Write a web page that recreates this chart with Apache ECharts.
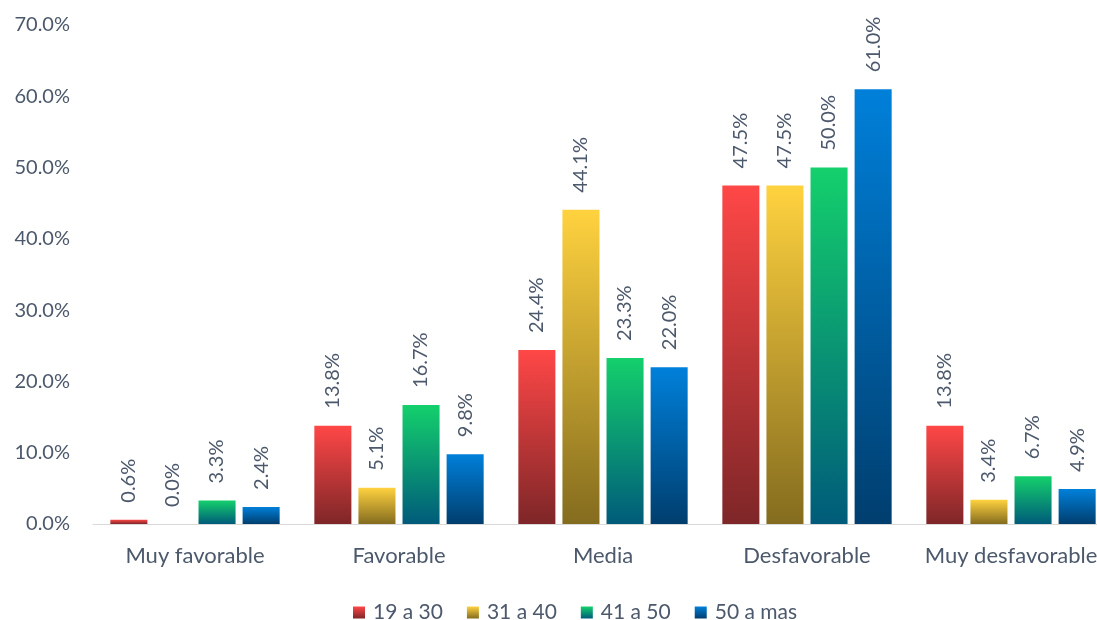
<!DOCTYPE html>
<html>
<head>
<meta charset="utf-8">
<script src="https://cdn.jsdelivr.net/npm/echarts@6/dist/echarts.min.js"></script>
<style>
  html, body { margin: 0; padding: 0; background: #ffffff; }
  #chart { width: 1097px; height: 620px; }
</style>
</head>
<body>
<div id="chart"></div>
<script>
// Categories and age groups
const categories = ['Muy favorable', 'Favorable', 'Media', 'Desfavorable', 'Muy desfavorable'];
const groupNames = ['19 a 30', '31 a 40', '41 a 50', '50 a mas'];

// Percentages per age group
const g19a30 = [0.6, 13.8, 24.4, 47.5, 13.8];
const g31a40 = [0.0, 5.1, 44.1, 47.5, 3.4];
const g41a50 = [3.3, 16.7, 23.3, 50.0, 6.7];
const g50mas = [2.4, 9.8, 22.0, 61.0, 4.9];

// Y axis ticks
const yTicks = [0, 10, 20, 30, 40, 50, 60, 70];

const seriesValues = [g19a30, g31a40, g41a50, g50mas];

// Top (bright) and bottom (dark) colour of each bar gradient
const gradientStops = [
  ['#ff4747', '#7e2628'],
  ['#ffd23f', '#846c1f'],
  ['#14d06c', '#005b7a'],
  ['#0080da', '#003e6e']
];

const textColor = '#4c586b';
const fontFamily = 'Lato, "Open Sans", sans-serif';

function grad(i) {
  return new echarts.graphic.LinearGradient(0, 0, 0, 1, [
    { offset: 0, color: gradientStops[i][0] },
    { offset: 1, color: gradientStops[i][1] }
  ]);
}

const chart = echarts.init(document.getElementById('chart'), null, { renderer: 'canvas' });

const series = groupNames.map((name, i) => ({
  name: name,
  type: 'bar',
  data: seriesValues[i],
  barGap: '19%',
  barCategoryGap: '17%',
  itemStyle: { color: grad(i) },
  label: {
    show: true,
    position: 'top',
    rotate: 90,
    align: 'left',
    verticalAlign: 'middle',
    distance: 17,
    color: textColor,
    fontFamily: fontFamily,
    fontSize: 20,
    formatter: p => p.value.toFixed(1) + '%'
  }
}));

chart.setOption({
  animation: false,
  backgroundColor: '#ffffff',
  textStyle: { fontFamily: fontFamily },
  grid: {
    left: 93, right: -16, top: 25, bottom: 96,
    containLabel: false,
    outerBoundsMode: 'none'
  },
  legend: {
    data: groupNames,
    top: 597,
    left: 348,
    itemWidth: 12,
    itemHeight: 12,
    itemGap: 24,
    icon: 'rect',
    textStyle: { color: textColor, fontSize: 21, fontFamily: fontFamily, padding: [0, 0, 0, 3] }
  },
  xAxis: {
    type: 'category',
    data: categories,
    axisLine: { show: true, lineStyle: { color: '#d9d9d9', width: 1 } },
    axisTick: { show: false },
    axisLabel: { interval: 0, color: textColor, fontSize: 22, fontFamily: fontFamily, margin: 21 }
  },
  yAxis: {
    type: 'value',
    min: yTicks[0],
    max: yTicks[yTicks.length - 1],
    interval: yTicks[1] - yTicks[0],
    axisLine: { show: false },
    axisTick: { show: false },
    splitLine: { show: false },
    axisLabel: {
      color: textColor,
      fontSize: 20,
      fontFamily: fontFamily,
      margin: 23,
      formatter: v => v.toFixed(1) + '%'
    }
  },
  series: series
});
</script>
</body>
</html>
